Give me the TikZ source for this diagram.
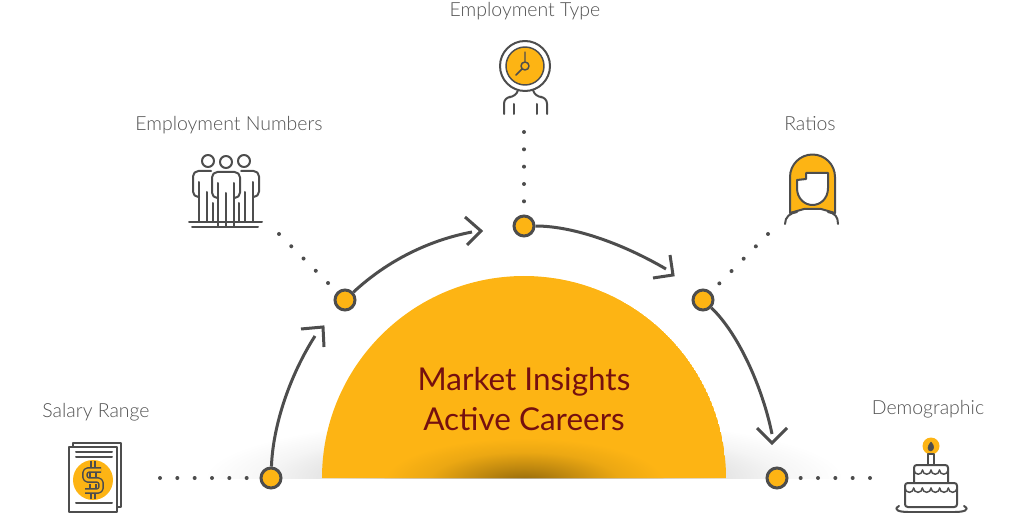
\documentclass[tikz,border=0pt]{standalone}
\usepackage{fontspec}
\setmainfont{Lato}[UprightFont=* Light]
\newfontfamily\headfont{Lato}
\definecolor{sun}{HTML}{FDB414}
\definecolor{ink}{HTML}{4D4D4D}
\definecolor{wine}{HTML}{75100F}
\definecolor{label}{HTML}{525252}
\pgfdeclareradialshading{floorhaze}{\pgfpointorigin}{color(0bp)=(black!32); color(15bp)=(black!11); color(20bp)=(black!4); color(25bp)=(white); color(50bp)=(white)}
\pgfdeclareradialshading{sunshade}{\pgfpointorigin}{color(0bp)=(sun!58!black); color(8bp)=(sun!75!black); color(17bp)=(sun!93!black); color(25bp)=(sun); color(50bp)=(sun)}
\tikzset{
  hub/.style={circle, draw=ink, fill=sun, line width=2.25pt, minimum size=15pt, inner sep=0pt},
  trail/.style={draw=ink, line width=2.25pt},
  chevron/.style={draw=ink, line width=2.25pt, line join=miter},
  dots/.style={draw=ink, line width=3pt, line cap=round, dash pattern=on 0pt off 13pt},
  icon/.style={draw=ink, line width=1.5pt, line join=round, line cap=round},
  tag/.style={text=label, anchor=base, font=\fontsize{14.6}{17}\selectfont},
  title/.style={text=wine, anchor=base, font=\headfont\fontsize{23.6}{27}\selectfont}
}
\begin{document}
\begin{tikzpicture}[x=0.75pt, y=-0.75pt]
\useasboundingbox (0,0) rectangle (1024,513);
\begin{scope}
\clip (0,0) rectangle (1024,478);
\shade [shading=floorhaze] (524,478) ellipse [x radius=320, y radius=62];
\end{scope}
\begin{scope}
\clip (322,478) arc (180:360:202) -- cycle;
\fill [sun] (322,478) arc (180:360:202) -- cycle;
\shade [shading=sunshade] (524,482) ellipse [x radius=140, y radius=44];
\end{scope}
\node [title] (market) at (524,390) {Market Insights};
\node [title] (active) at (524,430) {Active Careers};
\node [hub] (salaryhub) at (271,478) {};
\node [hub] (numbershub) at (345,300) {};
\node [hub] (typehub) at (524,226) {};
\node [hub] (ratiohub) at (703,300) {};
\node [hub] (demohub) at (777,478) {};
\coordinate (salaryend) at (315,336);
\coordinate (numbersend) at (472,232);
\coordinate (typeend) at (666,269);
\coordinate (ratioend) at (772,434);
\draw [trail] (salaryhub) .. controls (273,425) and (290,375) .. (salaryend);
\draw [trail] (numbershub) .. controls (388,260) and (430,240) .. (numbersend);
\draw [trail] (typehub) .. controls (575,226) and (625,245) .. (typeend);
\draw [trail] (ratiohub) .. controls (737,332) and (762,385) .. (ratioend);
\draw [chevron] (301,329) -- (323,327) -- (324,347);
\draw [chevron] (465,217) -- (481,231) -- (467,245);
\draw [chevron] (670,255) -- (673,275) -- (653,278);
\draw [chevron] (757,428) -- (772,443) -- (787,428);
\coordinate (salarydot) at (160,478);
\coordinate (numbersdot) at (279,234);
\coordinate (typedot) at (524,132);
\coordinate (ratiodot) at (768,234);
\coordinate (demodot) at (870,478);
\foreach \a/\b in {salarydot/salaryhub, numbersdot/numbershub, typedot/typehub, ratiodot/ratiohub, demodot/demohub}
  \draw [dots] (\a) -- (\b);
\node [tag] (salarytag) at (96,417) {Salary Range};
\node [tag] (numberstag) at (229,131) {Employment Numbers};
\node [tag] (typetag) at (525,17) {Employment Type};
\node [tag] (ratiotag) at (810,131) {Ratios};
\node [tag] (demotag) at (928,414) {Demographic};
% salary sheets
\draw [icon, fill=white] (73,443) rectangle (121,507);
\draw [icon, fill=white] (69,447) rectangle (117,512);
\draw [icon] (76,452) -- (112,452) (76,457) -- (112,457) (76,503) -- (112,503);
\fill [sun] (93,480) circle (20);
\draw [ink, line width=1.1pt, line join=round, double=sun, double distance=2.2pt, rounded corners=2.5pt] (101,470) -- (85,470) -- (85,480) -- (101,480) -- (101,491) -- (85,491);
\draw [ink, line width=1.1pt, double=sun, double distance=1.6pt] (93,461) -- (93,467) (93,494) -- (93,499);
\draw [ink, line width=0.9pt] (90,473) -- (90,477) (96,473) -- (96,477) (90,484) -- (90,488) (96,484) -- (96,488);
% three people
\foreach \px/\flip in {208/1, 244/-1} {
  \begin{scope}[shift={(\px,161)}, xscale=\flip]
    \draw [icon] (0,0) circle (6);
    \draw [icon, rounded corners=4pt] (-9,36) -- (-15,36) -- (-15,10) -- (3,10);
    \draw [icon] (-9,21) -- (-9,61) (-1,31) -- (-1,61) (5,42) -- (5,61);
  \end{scope}
}
\begin{scope}[shift={(226,162)}]
  \draw [icon] (0,0) circle (6);
  \draw [icon, rounded corners=4pt] (-8,36) -- (-14,36) -- (-14,10) -- (14,10) -- (14,36) -- (8,36);
  \draw [icon] (-8,21) -- (-8,65) (8,21) -- (8,65) (0,31) -- (0,65);
\end{scope}
\draw [icon] (189,222) -- (262,222) (192,227) -- (258,227);
% clock head
\draw [icon] (525,66) circle (25);
\draw [icon, fill=sun, line width=1.1pt] (525,66) circle (19);
\draw [icon, line width=1.1pt] (525,66) circle (4) (525,62) -- (525,52) (522,69) -- (516,75);
\draw [icon, rounded corners=5pt] (518,90) -- (516,97) -- (504,97) -- (504,114);
\draw [icon, rounded corners=5pt] (533,90) -- (535,97) -- (547,97) -- (547,114);
\draw [icon] (514,104) -- (514,114) (537,104) -- (537,114);
% woman
\draw [icon, fill=sun] (790,213) -- (790,177) arc (180:360:22.5) -- (835,213) -- (821,209) -- (804,209) -- cycle;
\draw [icon, fill=white] (806,173) -- (828,173) -- (828,188) .. controls (828,199) and (820,205) .. (812.5,205) .. controls (805,205) and (797,199) .. (797,188) -- (797,180) -- (806,179) -- cycle;
\draw [icon] (785,224) .. controls (785,217) and (790,213) .. (797,212) (838,224) .. controls (838,217) and (835,213) .. (828,212);
% cake
\fill [sun] (931,446) circle (8.5);
\draw [ink, fill=ink] (931,442) .. controls (935,446) and (934,450) .. (931,451) .. controls (927,451) and (927,446) .. (931,442);
\draw [icon] (928,464) -- (928,454) -- (934,454) -- (934,464);
\draw [icon, rounded corners=2pt] (914,482) -- (914,465) -- (948,465) -- (948,482);
\foreach \cx in {914,922.5,931,939.5}
  \draw [icon, line width=1.1pt] (\cx,470) arc (180:0:4.25);
\draw [icon, rounded corners=2pt, fill=white] (905,483) rectangle (957,507);
\foreach \cx in {905,913.67,922.33,931,939.67,948.33}
  \draw [icon, line width=1.1pt] (\cx,488) arc (180:0:4.33);
\draw [icon] (899,506) .. controls (892,510) and (900,512) .. (908,512) -- (955,512) .. controls (963,512) and (971,510) .. (964,506);
\end{tikzpicture}
\end{document}
